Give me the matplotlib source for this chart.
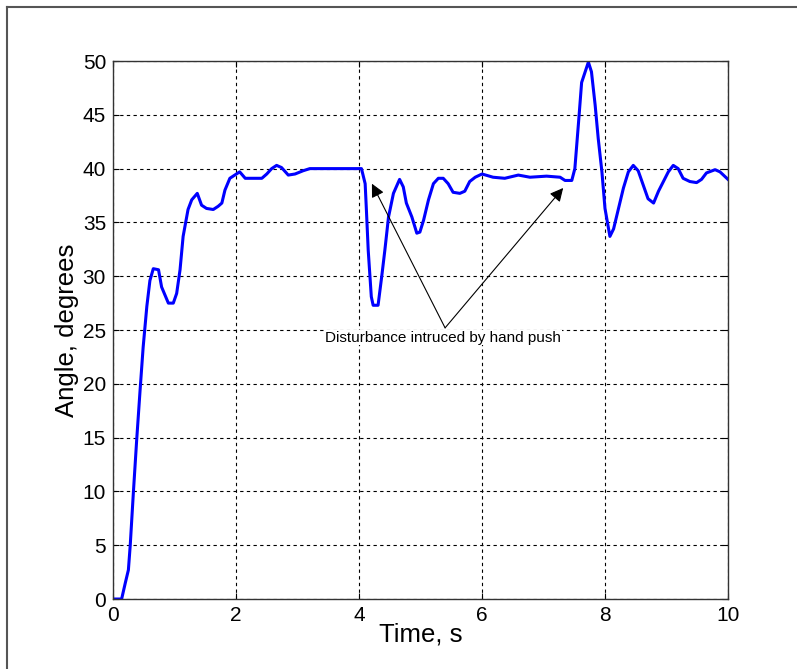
import matplotlib
matplotlib.use('Agg')
import matplotlib.pyplot as plt
from matplotlib.lines import Line2D

plt.rcParams['font.family'] = ['Liberation Sans', 'DejaVu Sans']

# time (s) and angle (degrees)
time_s = [0, 0.14, 0.2, 0.25, 0.28, 0.33, 0.385, 0.44, 0.49, 0.55, 0.6, 0.655, 0.74, 0.79, 0.9,
          0.98, 1.035, 1.09, 1.14, 1.22, 1.28, 1.37, 1.44, 1.52, 1.63, 1.71, 1.77, 1.82, 1.9,
          1.98, 2.06, 2.15, 2.42, 2.5, 2.58, 2.66, 2.74, 2.85, 2.96, 3.09, 3.2, 4.04, 4.1,
          4.12, 4.15, 4.2, 4.23, 4.31, 4.37, 4.42, 4.48, 4.56, 4.66, 4.72, 4.77, 4.86, 4.94,
          4.99, 5.05, 5.13, 5.21, 5.29, 5.37, 5.45, 5.53, 5.64, 5.72, 5.8, 5.89, 6.0, 6.18,
          6.37, 6.59, 6.78, 7.05, 7.27, 7.35, 7.46, 7.51, 7.57, 7.62, 7.73, 7.78, 7.84, 7.89,
          7.95, 8.0, 8.08, 8.14, 8.22, 8.3, 8.38, 8.46, 8.54, 8.62, 8.7, 8.79, 8.87, 8.95,
          9.03, 9.11, 9.19, 9.27, 9.38, 9.49, 9.57, 9.65, 9.79, 9.87, 10.0]
angle = [0, 0, 1.5, 2.7, 5, 9.8, 14.8, 19.4, 23.4, 27.2, 29.6, 30.7, 30.6, 29.0, 27.5,
         27.5, 28.4, 30.6, 33.7, 36.2, 37.1, 37.7, 36.6, 36.3, 36.2, 36.5, 36.8, 38.0, 39.1,
         39.4, 39.7, 39.1, 39.1, 39.5, 40.0, 40.3, 40.1, 39.4, 39.5, 39.8, 40, 40, 38.6,
         36.2, 32.4, 28.1, 27.3, 27.3, 30, 32.4, 35.5, 37.7, 39.0, 38.3, 36.8, 35.5, 34.0,
         34.1, 35.2, 37.1, 38.6, 39.1, 39.1, 38.6, 37.8, 37.7, 37.9, 38.8, 39.2, 39.5, 39.2,
         39.1, 39.4, 39.2, 39.3, 39.2, 38.9, 38.9, 40.0, 44.3, 48.0, 49.9, 49.0, 45.9, 42.8,
         39.7, 36.3, 33.7, 34.4, 36.3, 38.2, 39.7, 40.3, 39.8, 38.5, 37.2, 36.8, 37.9, 38.8,
         39.7, 40.3, 40.0, 39.1, 38.8, 38.7, 39.0, 39.6, 39.9, 39.7, 39.0]

x_ticks = [0, 2, 4, 6, 8, 10]
y_ticks = [0, 5, 10, 15, 20, 25, 30, 35, 40, 45, 50]

note = 'Disturbance intruced by hand push'
note_from = (5.40, 25.2)
note_targets = [(4.21, 38.6), (7.32, 38.2)]

fig = plt.figure(figsize=(7.97, 6.69), dpi=100)
ax = fig.add_axes([0.1418, 0.1046, 0.7716, 0.8042])

ax.plot(time_s, angle, color='#0000ff', lw=2.2)

ax.set_xlim(0, 10)
ax.set_ylim(0, 50)
ax.set_xticks(x_ticks)
ax.set_yticks(y_ticks)
ax.tick_params(direction='in', length=4, labelsize=15, top=True, right=True, pad=5)
ax.grid(True, color='black', linestyle=(0, (3, 3)), lw=0.8)
for s in ax.spines.values():
    s.set_color('#333333')
    s.set_linewidth(1.0)

ax.set_xlabel('Time, s', fontsize=18.5, labelpad=-2)
ax.set_ylabel('Angle, degrees', fontsize=18.5, labelpad=3)

for tx, ty in note_targets:
    ax.annotate('', xy=(tx, ty), xytext=note_from,
                arrowprops=dict(arrowstyle='-|>', color='black', lw=0.8,
                                mutation_scale=20, shrinkA=0, shrinkB=0))
ax.text(5.37, 24.3, note, fontsize=11, ha='center', va='center',
        bbox=dict(facecolor='white', edgecolor='none', pad=0.5))

# outer frame (top and left only, as in the reference)
fig.add_artist(Line2D([7 / 797, 1], [1 - 7 / 669] * 2, color='#555555', lw=1.5))
fig.add_artist(Line2D([7 / 797] * 2, [1 - 7 / 669, 0], color='#555555', lw=1.5))

fig.savefig('out.png', dpi=100)
